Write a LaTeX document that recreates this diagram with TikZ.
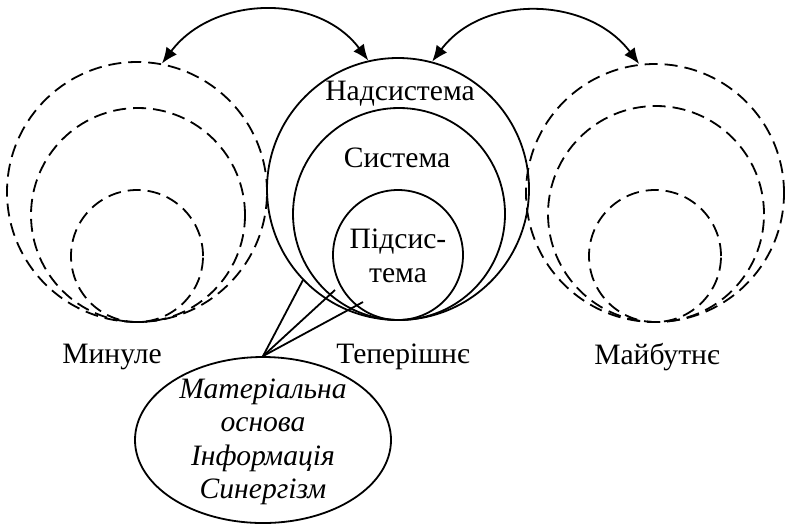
\documentclass[tikz,border=0pt]{standalone}
\usepackage{fontspec}
\setmainfont{Liberation Serif}
\usetikzlibrary{arrows.meta,shapes.geometric}
\begin{document}
\begin{tikzpicture}[x=0.5pt,y=-0.5pt,
  ring/.style={circle,draw,line width=0.9pt,minimum size=#1,inner sep=0pt},
  dring/.style={ring=#1,dash pattern=on 6.5pt off 3.5pt},
  link/.style={line width=0.9pt,{Latex[length=8pt,width=6.5pt]}-{Latex[length=8pt,width=6.5pt]}},
  lbl/.style={font=\fontsize{14.8}{16.7}\selectfont,align=center,inner sep=0pt},
  ilbl/.style={lbl,font=\fontsize{14.8}{16.7}\selectfont\itshape},
  spoke/.style={line width=0.9pt},
  oval/.style={ellipse,draw,line width=0.9pt,minimum width=128pt,minimum height=83pt,inner sep=0pt}]
\useasboundingbox (0,0) rectangle (785,526);

% past: dashed rings
\node[dring=130pt] (pastA) at (137,192) {};
\node[dring=107pt] (pastB) at (138,215) {};
\node[dring=66pt]  (pastC) at (137,256) {};

% present: solid rings
\node[ring=131pt] (nowA) at (398,189) {};
\node[ring=106pt] (nowB) at (399,214) {};
\node[ring=65pt]  (nowC) at (398,255) {};

% future: dashed rings
\node[dring=129pt] (futA) at (655,193) {};
\node[dring=108pt] (futB) at (656,214) {};
\node[dring=66pt]  (futC) at (655,256) {};

% ring labels
\node[lbl] (tA) at (400,94) {Надсистема};
\node[lbl] (tB) at (397,158) {Система};
\node[lbl] (tC) at (398,256) {Підсис-\\тема};

% time labels
\node[lbl] (past)   at (112,357) {Минуле};
\node[lbl] (now)    at (403,357) {Теперішнє};
\node[lbl] (future) at (657,357) {Майбутнє};

% links between time frames
\draw[link] (pastA.79) .. controls +(51,-68) and +(-51,-68) .. (nowA.103);
\draw[link] (nowA.75) .. controls +(51,-68) and +(-51,-68) .. (futA.97);

% components of the system
\node[oval] (base) at (263,440) {};
\node[ilbl] (baseText) at (263,442) {Матеріальна\\основа\\Інформація\\Синергізм};
\coordinate (pA) at (303,280);
\coordinate (pB) at (335,290);
\coordinate (pC) at (363,302);
\draw[spoke] (base.north) -- (pA);
\draw[spoke] (base.north) -- (pB);
\draw[spoke] (base.north) -- (pC);
\end{tikzpicture}
\end{document}
